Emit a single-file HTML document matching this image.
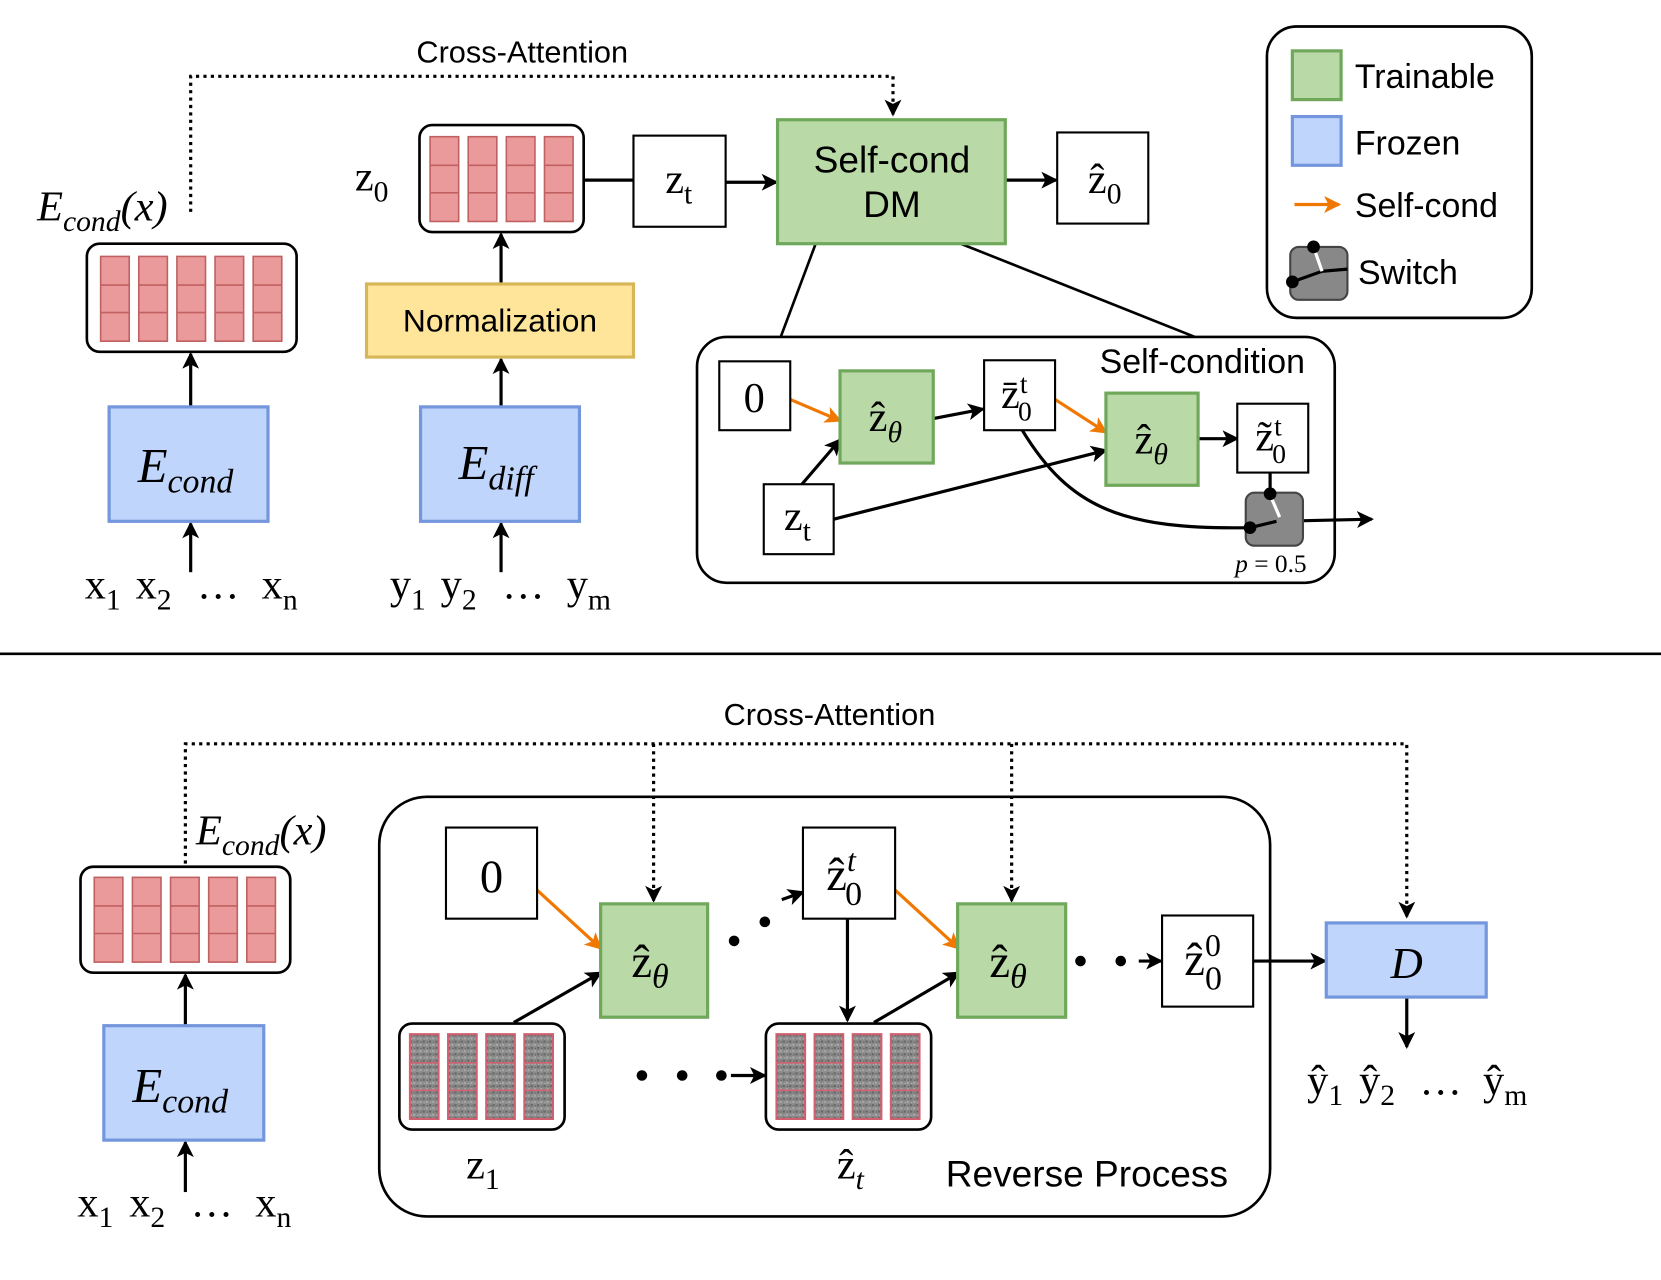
<!DOCTYPE html>
<html><head><meta charset="utf-8"><style>
html,body{margin:0;padding:0;background:#fff;}
svg{display:block;}
.s{font-family:"Liberation Sans",sans-serif;}
.r{font-family:"Liberation Serif",serif;}
</style></head><body>
<svg width="1661" height="1280" viewBox="0 0 1568 1208" preserveAspectRatio="none" xmlns="http://www.w3.org/2000/svg">
<defs>
<marker id="a" markerWidth="18" markerHeight="16" refX="14" refY="8" orient="auto" markerUnits="userSpaceOnUse"><path d="M0,0 L16,8 L0,16 L4,8 z" fill="#000"/></marker>
<marker id="ao" markerWidth="18" markerHeight="16" refX="14" refY="8" orient="auto" markerUnits="userSpaceOnUse"><path d="M0,0 L16,8 L0,16 L4,8 z" fill="#f07800"/></marker>
<pattern id="np" width="6" height="6" patternUnits="userSpaceOnUse"><rect width="6" height="6" fill="#8a8a8a"/><rect width="2" height="2" fill="#666"/><rect x="3" y="3" width="2" height="2" fill="#aaa"/><rect x="4" y="1" width="1" height="1" fill="#555"/><rect x="1" y="4" width="1" height="1" fill="#bbb"/></pattern>
<g id="col"><rect x="0" y="0" width="27" height="80" fill="#ea9a9a" stroke="#c06060" stroke-width="1.5"/><line x1="0" y1="27" x2="27" y2="27" stroke="#c06060" stroke-width="1.5"/><line x1="0" y1="53" x2="27" y2="53" stroke="#c06060" stroke-width="1.5"/></g>
<g id="ncol"><rect x="0" y="0" width="27" height="80" fill="url(#np)" stroke="#d06070" stroke-width="2"/><line x1="0" y1="27" x2="27" y2="27" stroke="#d06070" stroke-width="1.5"/><line x1="0" y1="53" x2="27" y2="53" stroke="#d06070" stroke-width="1.5"/></g>
</defs>
<g stroke="#000" stroke-width="3" fill="none">
<path d="M180,200 V72 H843 V108" stroke-dasharray="3,4" marker-end="url(#a)"/>
<rect x="82" y="230" width="198" height="102" rx="12" fill="#fff" stroke-width="2.5"/>
<line x1="180" y1="383" x2="180" y2="334" marker-end="url(#a)"/>
<line x1="180" y1="540" x2="180" y2="494" marker-end="url(#a)"/>
<rect x="396" y="118" width="155" height="101" rx="12" fill="#fff" stroke-width="2.5"/>
<line x1="473" y1="268" x2="473" y2="221" marker-end="url(#a)"/>
<line x1="473" y1="384" x2="473" y2="339" marker-end="url(#a)"/>
<line x1="473" y1="540" x2="473" y2="494" marker-end="url(#a)"/>
<line x1="551" y1="170" x2="598" y2="170"/>
<line x1="685" y1="172" x2="733" y2="172" marker-end="url(#a)"/>
<line x1="949" y1="170" x2="997" y2="170" marker-end="url(#a)"/>
<line x1="770" y1="230" x2="737" y2="318" stroke-width="2.5"/>
<line x1="907" y1="230" x2="1128" y2="318" stroke-width="2.5"/>
<rect x="658" y="318" width="602" height="232" rx="28" stroke-width="2.5"/>
<line x1="881" y1="395" x2="928" y2="386" marker-end="url(#a)"/>
<line x1="1131" y1="414" x2="1168" y2="414" marker-end="url(#a)"/>
<line x1="757" y1="457" x2="793" y2="415" marker-end="url(#a)"/>
<line x1="787" y1="490" x2="1044" y2="425" marker-end="url(#a)"/>
<path d="M965,406 C1010,480 1060,500 1180,498"/>
<line x1="1205" y1="492" x2="1295" y2="490" marker-end="url(#a)"/>
<line x1="1199" y1="446" x2="1199" y2="466"/>
<rect x="1196" y="25" width="250" height="275" rx="28" stroke-width="2.5"/>
<line x1="0" y1="617" x2="1568" y2="617" stroke-width="2.5"/>
<path d="M175,815 V702 H1328 V865" stroke-dasharray="3,4" marker-end="url(#a)"/>
<path d="M617,702 V850" stroke-dasharray="3,4" marker-end="url(#a)"/>
<path d="M955,702 V850" stroke-dasharray="3,4" marker-end="url(#a)"/>
<rect x="76" y="818" width="198" height="100" rx="12" fill="#fff" stroke-width="2.5"/>
<line x1="175" y1="968" x2="175" y2="920" marker-end="url(#a)"/>
<line x1="175" y1="1125" x2="175" y2="1078" marker-end="url(#a)"/>
<rect x="358" y="752" width="841" height="396" rx="45" stroke-width="2.5"/>
<rect x="377" y="966" width="156" height="100" rx="12" fill="#fff" stroke-width="2.5"/>
<rect x="723" y="966" width="156" height="100" rx="12" fill="#fff" stroke-width="2.5"/>
<line x1="485" y1="965" x2="567" y2="918" marker-end="url(#a)"/>
<line x1="825" y1="965" x2="905" y2="918" marker-end="url(#a)"/>
<line x1="800" y1="867" x2="800" y2="963" marker-end="url(#a)"/>
<line x1="738" y1="849" x2="758" y2="842" marker-end="url(#a)"/>
<line x1="690" y1="1015" x2="722" y2="1015" marker-end="url(#a)"/>
<line x1="1075" y1="907" x2="1096" y2="907" marker-end="url(#a)"/>
<line x1="1183" y1="907" x2="1251" y2="907" marker-end="url(#a)"/>
<line x1="1328" y1="941" x2="1328" y2="988" marker-end="url(#a)"/>
</g>
<g stroke="#f07800" stroke-width="3">
<line x1="746" y1="377" x2="793" y2="397" marker-end="url(#ao)"/>
<line x1="996" y1="377" x2="1044" y2="408" marker-end="url(#ao)"/>
<line x1="507" y1="840" x2="567" y2="895" marker-end="url(#ao)"/>
<line x1="845" y1="840" x2="905" y2="895" marker-end="url(#ao)"/>
<line x1="1222" y1="193" x2="1264" y2="193" marker-end="url(#ao)"/>
</g>
<use href="#col" x="95" y="242"/><use href="#col" x="131" y="242"/><use href="#col" x="167" y="242"/><use href="#col" x="203" y="242"/><use href="#col" x="239" y="242"/>
<use href="#col" x="406" y="129"/><use href="#col" x="442" y="129"/><use href="#col" x="478" y="129"/><use href="#col" x="514" y="129"/>
<use href="#col" x="89" y="828"/><use href="#col" x="125" y="828"/><use href="#col" x="161" y="828"/><use href="#col" x="197" y="828"/><use href="#col" x="233" y="828"/>
<use href="#ncol" x="387" y="976"/><use href="#ncol" x="423" y="976"/><use href="#ncol" x="459" y="976"/><use href="#ncol" x="495" y="976"/>
<use href="#ncol" x="733" y="976"/><use href="#ncol" x="769" y="976"/><use href="#ncol" x="805" y="976"/><use href="#ncol" x="841" y="976"/>
<g stroke-width="3">
<rect x="103" y="384" width="150" height="108" fill="#bfd5fb" stroke="#7396dc"/>
<rect x="98" y="968" width="151" height="108" fill="#bfd5fb" stroke="#7396dc"/>
<rect x="397" y="384" width="150" height="108" fill="#bfd5fb" stroke="#7396dc"/>
<rect x="346" y="268" width="252" height="69" fill="#ffe59a" stroke="#d6b656"/>
<rect x="734" y="113" width="215" height="117" fill="#b9d9a7" stroke="#6fa85a"/>
<rect x="793" y="350" width="88" height="87" fill="#b9d9a7" stroke="#6fa85a"/>
<rect x="1044" y="371" width="87" height="87" fill="#b9d9a7" stroke="#6fa85a"/>
<rect x="567" y="853" width="101" height="107" fill="#b9d9a7" stroke="#6fa85a"/>
<rect x="904" y="853" width="102" height="107" fill="#b9d9a7" stroke="#6fa85a"/>
<rect x="1252" y="871" width="151" height="70" fill="#bfd5fb" stroke="#7396dc"/>
<rect x="1220" y="48" width="46" height="46" fill="#b9d9a7" stroke="#6fa85a"/>
<rect x="1220" y="110" width="46" height="46" fill="#bfd5fb" stroke="#7396dc"/>
</g>
<g fill="#fff" stroke="#000" stroke-width="2">
<rect x="598" y="128" width="87" height="86"/>
<rect x="998" y="125" width="86" height="86"/>
<rect x="679" y="341" width="67" height="65"/>
<rect x="929" y="340" width="67" height="66"/>
<rect x="1168" y="381" width="67" height="65"/>
<rect x="721" y="457" width="66" height="66"/>
<rect x="421" y="781" width="86" height="86"/>
<rect x="758" y="781" width="87" height="86"/>
<rect x="1097" y="864" width="86" height="86"/>
</g>
<rect x="1176" y="465" width="54" height="50" rx="8" fill="#888" stroke="#444" stroke-width="2"/>
<line x1="1180" y1="498" x2="1205" y2="492" stroke="#000" stroke-width="3"/>
<line x1="1199" y1="467" x2="1208" y2="488" stroke="#fff" stroke-width="3"/>
<circle cx="1199" cy="466" r="6" fill="#000"/><circle cx="1180" cy="498" r="6" fill="#000"/>
<rect x="1218" y="233" width="54" height="50" rx="8" fill="#888" stroke="#444" stroke-width="2"/>
<path d="M1220,266 L1248,256 L1272,254" stroke="#000" stroke-width="3" fill="none"/>
<line x1="1240" y1="233" x2="1248" y2="256" stroke="#fff" stroke-width="3"/>
<circle cx="1240" cy="233" r="6" fill="#000"/><circle cx="1220" cy="266" r="6" fill="#000"/>
<g fill="#000"><circle cx="693" cy="888" r="5"/><circle cx="722" cy="870" r="5"/>
<circle cx="606" cy="1015" r="5"/><circle cx="644" cy="1015" r="5"/><circle cx="681" cy="1015" r="5"/>
<circle cx="1020" cy="907" r="5"/><circle cx="1058" cy="907" r="5"/></g>
<g class="s" font-size="29" fill="#000">
<text x="493" y="59" text-anchor="middle">Cross-Attention</text>
<text x="783" y="684" text-anchor="middle">Cross-Attention</text>
<text x="472" y="313" text-anchor="middle" font-size="30">Normalization</text>
<text x="842" y="163" text-anchor="middle" font-size="35">Self-cond</text>
<text x="842" y="205" text-anchor="middle" font-size="35">DM</text>
<text x="1135" y="352" text-anchor="middle" font-size="32">Self-condition</text>
<text x="1026" y="1120" text-anchor="middle" font-size="35">Reverse Process</text>
<text x="1279" y="83" font-size="32">Trainable</text>
<text x="1279" y="146" font-size="32">Frozen</text>
<text x="1279" y="205" font-size="32">Self-cond</text>
<text x="1282" y="268" font-size="32">Switch</text>
</g>
<g class="r" fill="#000" font-size="40">
<text x="35" y="208" font-style="italic">E<tspan font-size="28" dy="10">cond</tspan><tspan dy="-10">(x)</tspan></text>
<text x="185" y="797" font-style="italic">E<tspan font-size="28" dy="10">cond</tspan><tspan dy="-10">(x)</tspan></text>
<text x="130" y="455" font-style="italic" font-size="46">E<tspan font-size="32" dy="10">cond</tspan></text>
<text x="125" y="1040" font-style="italic" font-size="46">E<tspan font-size="32" dy="10">cond</tspan></text>
<text x="433" y="452" font-style="italic" font-size="46">E<tspan font-size="32" dy="10">diff</tspan></text>
<text x="335" y="180">z<tspan font-size="28" dy="10">0</tspan></text>
<text x="628" y="182">z<tspan font-size="28" dy="10">t</tspan></text>
<text x="1027" y="182">ẑ<tspan font-size="28" dy="10">0</tspan></text>
<text x="712" y="389" text-anchor="middle">0</text>
<text x="820" y="407">ẑ<tspan font-size="28" dy="10" font-style="italic">θ</tspan></text>
<text x="1071" y="428">ẑ<tspan font-size="28" dy="10" font-style="italic">θ</tspan></text>
<text x="945" y="385">z̄<tspan font-size="26" dy="-14">t</tspan><tspan font-size="26" dx="-9" dy="26">0</tspan></text>
<text x="1185" y="425">z̃<tspan font-size="26" dy="-14">t</tspan><tspan font-size="26" dx="-9" dy="26">0</tspan></text>
<text x="740" y="500">z<tspan font-size="28" dy="10">t</tspan></text>
<text x="1166" y="540" font-size="24"><tspan font-style="italic">p</tspan> = 0.5</text>
<text y="565"><tspan x="80">x</tspan><tspan font-size="28" dy="10">1</tspan><tspan x="128" dy="-10">x</tspan><tspan font-size="28" dy="10">2</tspan><tspan x="186" dy="-10">…</tspan><tspan x="247">x</tspan><tspan font-size="28" dy="10">n</tspan></text>
<text y="565"><tspan x="368">y</tspan><tspan font-size="28" dy="10">1</tspan><tspan x="416" dy="-10">y</tspan><tspan font-size="28" dy="10">2</tspan><tspan x="474" dy="-10">…</tspan><tspan x="535">y</tspan><tspan font-size="28" dy="10">m</tspan></text>
<text y="1148"><tspan x="73">x</tspan><tspan font-size="28" dy="10">1</tspan><tspan x="122" dy="-10">x</tspan><tspan font-size="28" dy="10">2</tspan><tspan x="180" dy="-10">…</tspan><tspan x="241">x</tspan><tspan font-size="28" dy="10">n</tspan></text>
<text y="1033"><tspan x="1234">ŷ</tspan><tspan font-size="28" dy="10">1</tspan><tspan x="1283" dy="-10">ŷ</tspan><tspan font-size="28" dy="10">2</tspan><tspan x="1340" dy="-10">…</tspan><tspan x="1400">ŷ</tspan><tspan font-size="28" dy="10">m</tspan></text>
<text x="464" y="842" text-anchor="middle" font-size="44">0</text>
<text x="596" y="922" font-size="44">ẑ<tspan font-size="32" dy="10" font-style="italic">θ</tspan></text>
<text x="934" y="922" font-size="44">ẑ<tspan font-size="32" dy="10" font-style="italic">θ</tspan></text>
<text x="780" y="840" font-size="44">ẑ<tspan font-size="30" dy="-18" font-style="italic">t</tspan><tspan font-size="32" dx="-10" dy="32">0</tspan></text>
<text x="1118" y="920" font-size="44">ẑ<tspan font-size="30" dy="-18">0</tspan><tspan font-size="32" dx="-15" dy="32">0</tspan></text>
<text x="1328" y="923" text-anchor="middle" font-style="italic" font-size="42">D</text>
<text x="440" y="1112">z<tspan font-size="28" dy="10">1</tspan></text>
<text x="790" y="1112" font-size="40">ẑ<tspan font-size="28" dy="10" font-style="italic">t</tspan></text>
</g>
</svg>
</body></html>
